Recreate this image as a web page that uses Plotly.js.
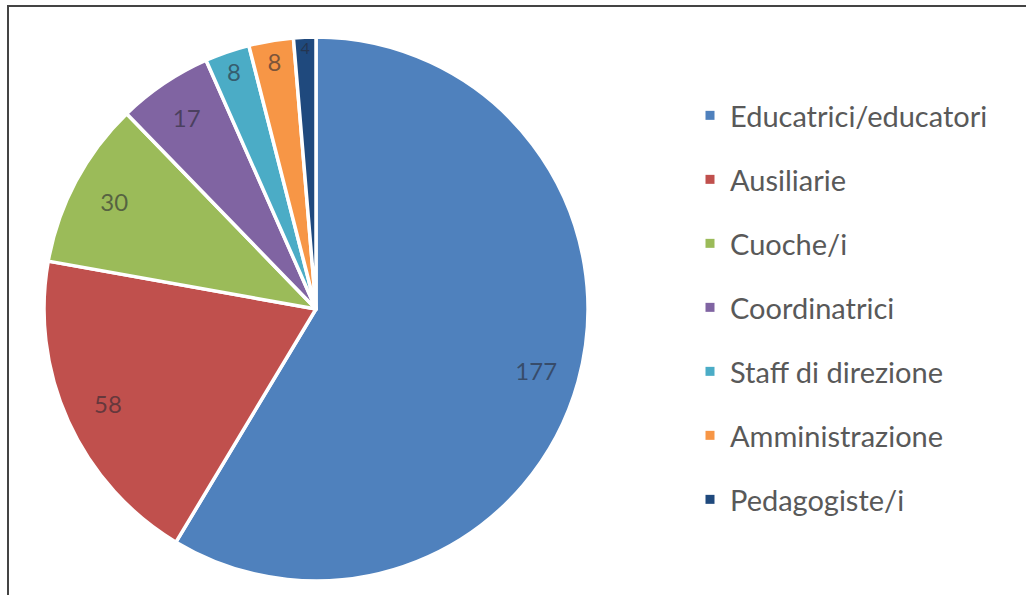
<!DOCTYPE html>
<html>
<head>
<meta charset="utf-8">
<script src="https://cdn.plot.ly/plotly-3.0.1.min.js"></script>
<style>
  html, body { margin: 0; padding: 0; background: #fff; }
  #chart { position: absolute; left: 0; top: 0; width: 1026px; height: 595px; }
  #frame { position: absolute; left: 7px; top: 5px; width: 1030px; height: 600px;
           border-top: 2px solid #444; border-left: 2px solid #444; pointer-events: none; }
</style>
</head>
<body>
<div id="chart"></div>
<div id="frame"></div>
<script>
const categories = ["Educatrici/educatori", "Ausiliarie", "Cuoche/i", "Coordinatrici",
                    "Staff di direzione", "Amministrazione", "Pedagogiste/i"];
const counts = [177, 58, 30, 17, 8, 8, 4];
const colors = ["#4F81BD", "#C0504D", "#9BBB59", "#8064A2", "#4BACC6", "#F79646", "#1F497D"];

const W = 1026, H = 595;
const cx = 316, cy = 309, R = 272;
const domX = [(cx - R) / W, (cx + R) / W];
const domY = [(H - (cy + R)) / H, (H - (cy - R)) / H];

const pieTrace = {
  type: "pie",
  labels: categories,
  values: counts,
  sort: false,
  direction: "clockwise",
  rotation: 0,
  marker: { colors: colors, line: { color: "#ffffff", width: 3.5 } },
  textinfo: "none",
  showlegend: false,
  hoverinfo: "label+value",
  domain: { x: domX, y: domY }
};

const labelTrace = {
  type: "pie",
  labels: categories,
  values: counts,
  sort: false,
  direction: "clockwise",
  rotation: 0,
  hole: 0.68,
  marker: { colors: categories.map(() => "rgba(0,0,0,0)"), line: { width: 0 } },
  textinfo: "value",
  textposition: "inside",
  insidetextorientation: "horizontal",
  textfont: { family: "Lato, sans-serif", size: 24, color: "rgba(40,40,50,0.6)" },
  showlegend: false,
  hoverinfo: "skip",
  domain: { x: domX, y: domY }
};

const legendTraces = categories.map((c, i) => ({
  type: "scatter",
  mode: "markers",
  x: [null], y: [null],
  name: c,
  legendgroup: "g" + i,
  marker: { symbol: "square", size: 9, color: colors[i] },
  hoverinfo: "skip"
}));

const layout = {
  width: W, height: H,
  margin: { l: 0, r: 0, t: 0, b: 0 },
  paper_bgcolor: "#ffffff",
  plot_bgcolor: "rgba(0,0,0,0)",
  xaxis: { visible: false, domain: [0.9, 1] },
  yaxis: { visible: false, domain: [0.9, 1] },
  showlegend: true,
  legend: {
    x: 690 / W, y: 1 - 90 / H, xanchor: "left", yanchor: "top",
    traceorder: "grouped",
    tracegroupgap: 23.3,
    font: { family: "Lato, sans-serif", size: 29, color: "#595959" },
    bgcolor: "rgba(0,0,0,0)"
  }
};

Plotly.newPlot("chart", [pieTrace, labelTrace, ...legendTraces], layout, { displayModeBar: false, staticPlot: true });
</script>
</body>
</html>
